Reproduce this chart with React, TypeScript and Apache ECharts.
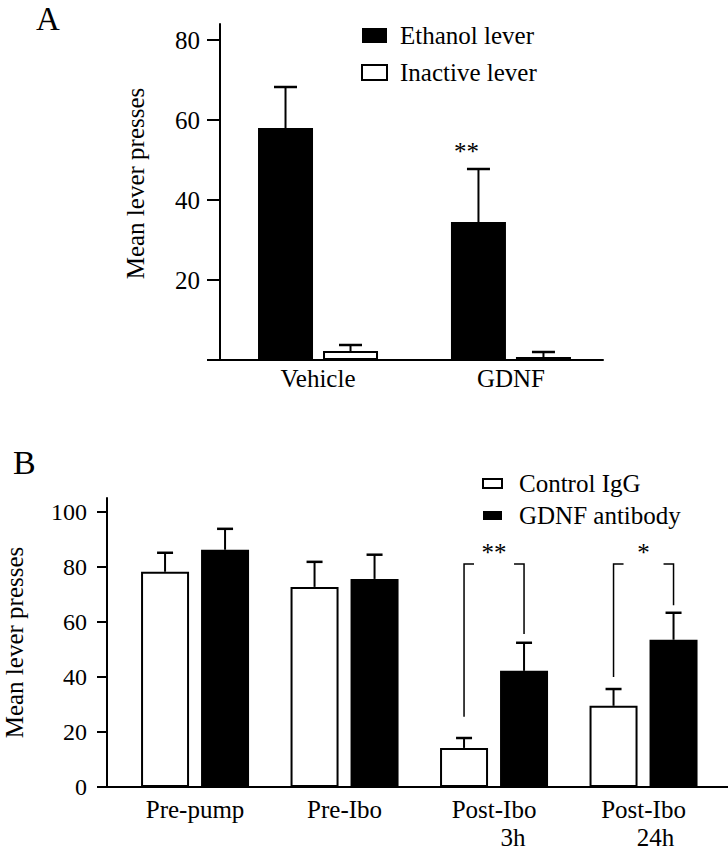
import React, { useEffect, useRef } from "react";
import * as echarts from "echarts";

const FONT = "'Liberation Serif', 'Times New Roman', Times, serif";

// Panel A
const catsA = ["Vehicle", "GDNF"];
const ethanolMean = [58, 34.5];
const ethanolSem = [10.25, 13.25];
const inactiveMean = [2.25, 0.75];
const inactiveSem = [1.5, 1.25];
const sigA = ["", "**"];
const tickValuesA = [0, 20, 40, 60, 80];
const labelValuesA = [20, 40, 60, 80];

// Panel B
const catsB = ["Pre-pump", "Pre-Ibo", "Post-Ibo", "Post-Ibo"];
const subB = ["", "", "3h", "24h"];
const controlMean = [78.2, 72.7, 14.2, 29.5];
const controlSem = [6.9, 9.1, 3.6, 6.1];
const antibodyMean = [86.2, 75.6, 42.2, 53.5];
const antibodySem = [7.6, 8.8, 10.2, 9.8];
const tickValuesB = [0, 20, 40, 60, 80, 100];

// significance brackets in panel B
const bracketCats = [2, 3];
const bracketTop = [81, 81];
const bracketLeftEnd = [25.5, 40];
const bracketRightEnd = [55.6, 66];
const bracketSig = ["**", "*"];

const BW_A = 55;
const GAP_A = 10;
const BW_B = 48;
const GAP_B = 12;

function errorSeries(name: string, xi: number, means: number[], sems: number[], sign: number, offset: number, cap: number, sig?: string[]) {
  return {
    type: "custom",
    name,
    xAxisIndex: xi,
    yAxisIndex: xi,
    z: 5,
    silent: true,
    data: means.map((m, i) => [i, m, sems[i]]),
    renderItem: (params: any, api: any) => {
      const i = api.value(0);
      const m = api.value(1);
      const e = api.value(2);
      const base = api.coord([i, m]);
      const top = api.coord([i, m + e]);
      const x = base[0] + sign * offset;
      const children: any[] = [
        { type: "line", shape: { x1: x, y1: base[1], x2: x, y2: top[1] }, style: { stroke: "#000", lineWidth: 2 } },
        { type: "line", shape: { x1: x - cap / 2, y1: top[1], x2: x + cap / 2, y2: top[1] }, style: { stroke: "#000", lineWidth: 2.5 } },
      ];
      const s = sig ? sig[params.dataIndex] : "";
      if (s) {
        children.push({
          type: "text",
          x: x - 12,
          y: top[1] - 18,
          style: { text: s, fill: "#000", fontSize: 25, fontWeight: "normal", fontFamily: FONT, align: "center", verticalAlign: "middle" },
        });
      }
      return { type: "group", children };
    },
  };
}

export default function App() {
  const ref = useRef<HTMLDivElement>(null);
  useEffect(() => {
    if (!ref.current) return;
    const chart = echarts.init(ref.current, null, { renderer: "svg" });
    const axisLine = { show: true, onZero: false, lineStyle: { color: "#000", width: 2 } };
    const txt = { fontFamily: FONT, fontWeight: "normal", color: "#000" };
    const option: any = {
      animation: false,
      backgroundColor: "#fff",
      textStyle: { ...txt },
      title: [
        { text: "A", left: 31, top: -3, textStyle: { ...txt, fontSize: 33 } },
        { text: "B", left: 8, top: 440, textStyle: { ...txt, fontSize: 34 } },
      ],
      legend: [
        {
          orient: "vertical",
          left: 356,
          top: 18,
          itemWidth: 25,
          itemHeight: 15,
          itemGap: 12,
          icon: "rect",
          textStyle: { ...txt, fontSize: 25, padding: [0, 0, 0, 8] },
          data: [
            { name: "Ethanol lever", itemStyle: { color: "#000", borderWidth: 0 } },
            { name: "Inactive lever", itemStyle: { color: "#fff", borderColor: "#000", borderWidth: 2 } },
          ],
        },
        {
          orient: "vertical",
          left: 477,
          top: 466,
          itemWidth: 19,
          itemHeight: 9,
          itemGap: 7,
          icon: "rect",
          textStyle: { ...txt, fontSize: 25, padding: [0, 0, 0, 12] },
          data: [
            { name: "Control IgG", itemStyle: { color: "#fff", borderColor: "#000", borderWidth: 2 } },
            { name: "GDNF antibody", itemStyle: { color: "#000", borderWidth: 0 } },
          ],
        },
      ],
      grid: [
        { left: 220, top: 24, width: 383, height: 336, outerBoundsMode: "none", containLabel: false },
        { left: 107, top: 498, width: 621, height: 289, outerBoundsMode: "none", containLabel: false },
      ],
      xAxis: [
        {
          gridIndex: 0,
          type: "value",
          min: -0.508,
          max: 1.477,
          axisLine,
          axisTick: { show: false },
          splitLine: { show: false },
          axisLabel: { ...txt, customValues: [0, 1], formatter: (v: number) => catsA[Math.round(v)], fontSize: 25, margin: 6 },
        },
        {
          gridIndex: 1,
          type: "value",
          min: -0.589,
          max: 3.565,
          axisLine,
          axisTick: { show: false },
          splitLine: { show: false },
          axisLabel: {
            ...txt,
            customValues: [0, 1, 2, 3],
            formatter: (v: number) => {
              const i = Math.round(v);
              return subB[i] ? catsB[i] + "\n{s" + i + "|" + subB[i] + "}" : catsB[i];
            },
            fontSize: 25,
            lineHeight: 28,
            margin: 8,
            rich: {
              s2: { ...txt, fontSize: 25, lineHeight: 28, padding: [0, 0, 0, 38] },
              s3: { ...txt, fontSize: 25, lineHeight: 28, padding: [0, 0, 0, 24] },
            },
          },
        },
      ],
      yAxis: [
        {
          gridIndex: 0,
          type: "value",
          min: 0,
          max: 84,
          interval: 20,
          name: "Mean lever presses",
          nameLocation: "middle",
          nameGap: 72,
          nameTextStyle: { ...txt, fontSize: 25, padding: [0, 0, 0, 17] },
          axisLine,
          axisTick: { show: true, length: 13, lineStyle: { color: "#000", width: 2 }, customValues: tickValuesA },
          axisLabel: { ...txt, customValues: labelValuesA, fontSize: 25, margin: 20 },
          splitLine: { show: false },
        },
        {
          gridIndex: 1,
          type: "value",
          min: 0,
          max: 105,
          interval: 20,
          name: "Mean lever presses",
          nameLocation: "middle",
          nameGap: 80,
          nameTextStyle: { ...txt, fontSize: 25 },
          axisLine,
          axisTick: { show: true, length: 10, lineStyle: { color: "#000", width: 2 }, customValues: tickValuesB },
          axisLabel: { ...txt, customValues: tickValuesB, fontSize: 24, margin: 20 },
          splitLine: { show: false },
        },
      ],
      series: [
        {
          type: "bar",
          name: "Ethanol lever",
          xAxisIndex: 0,
          yAxisIndex: 0,
          barWidth: BW_A,
          barGap: (GAP_A / BW_A) * 100 + "%",
          itemStyle: { color: "#000" },
          data: ethanolMean.map((v, i) => [i, v]),
        },
        {
          type: "bar",
          name: "Inactive lever",
          xAxisIndex: 0,
          yAxisIndex: 0,
          barWidth: BW_A,
          barGap: (GAP_A / BW_A) * 100 + "%",
          itemStyle: { color: "#fff", borderColor: "#000", borderWidth: 2 },
          data: inactiveMean.map((v, i) => [i, v]),
        },
        {
          type: "bar",
          name: "Control IgG",
          xAxisIndex: 1,
          yAxisIndex: 1,
          barWidth: BW_B,
          barGap: (GAP_B / BW_B) * 100 + "%",
          itemStyle: { color: "#fff", borderColor: "#000", borderWidth: 2 },
          data: controlMean.map((v, i) => [i, v]),
        },
        {
          type: "bar",
          name: "GDNF antibody",
          xAxisIndex: 1,
          yAxisIndex: 1,
          barWidth: BW_B,
          barGap: (GAP_B / BW_B) * 100 + "%",
          itemStyle: { color: "#000" },
          data: antibodyMean.map((v, i) => [i, v]),
        },
        errorSeries("errEthanol", 0, ethanolMean, ethanolSem, -1, (BW_A + GAP_A) / 2, 23, sigA),
        errorSeries("errInactive", 0, inactiveMean, inactiveSem, 1, (BW_A + GAP_A) / 2, 23),
        errorSeries("errControl", 1, controlMean, controlSem, -1, (BW_B + GAP_B) / 2, 16),
        errorSeries("errAntibody", 1, antibodyMean, antibodySem, 1, (BW_B + GAP_B) / 2, 16),
        {
          type: "custom",
          name: "brackets",
          xAxisIndex: 1,
          yAxisIndex: 1,
          z: 6,
          silent: true,
          data: bracketCats.map((c, i) => [c, bracketTop[i], bracketLeftEnd[i], bracketRightEnd[i]]),
          renderItem: (params: any, api: any) => {
            const c = api.value(0);
            const t = api.coord([c, api.value(1)]);
            const l = api.coord([c, api.value(2)]);
            const r = api.coord([c, api.value(3)]);
            const off = (BW_B + GAP_B) / 2;
            const xl = t[0] - off;
            const xr = t[0] + off;
            const st = { stroke: "#000", lineWidth: 1.5, fill: "none" };
            return {
              type: "group",
              children: [
                { type: "polyline", shape: { points: [[xl + 10, t[1]], [xl, t[1]], [xl, l[1]]] }, style: st },
                { type: "polyline", shape: { points: [[xr - 10, t[1]], [xr, t[1]], [xr, r[1]]] }, style: st },
                {
                  type: "text",
                  x: t[0],
                  y: t[1] - 12,
                  style: { text: bracketSig[params.dataIndex], fill: "#000", fontSize: 25, fontWeight: "normal", fontFamily: FONT, align: "center", verticalAlign: "middle" },
                },
              ],
            };
          },
        },
      ],
    };
    chart.setOption(option);
    return () => chart.dispose();
  }, []);
  return <div ref={ref} style={{ position: "fixed", left: 0, top: 0, width: 728, height: 853, background: "#fff" }} />;
}
